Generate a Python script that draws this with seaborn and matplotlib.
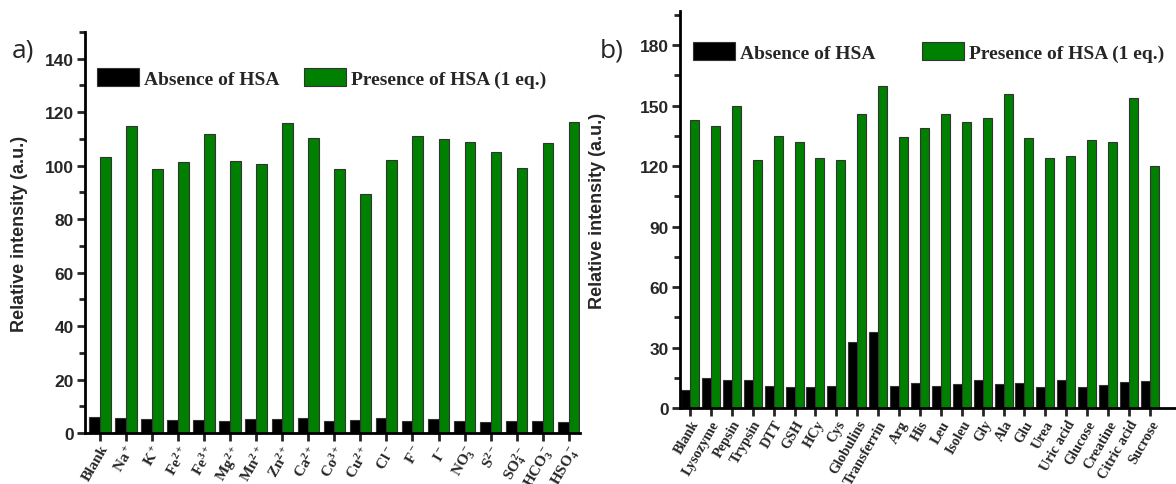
import numpy as np
import pandas as pd
import matplotlib
matplotlib.use("Agg")
import matplotlib.pyplot as plt
import seaborn as sns
from matplotlib.ticker import MultipleLocator
from matplotlib.patches import Patch

# ---------------- data ----------------
ions = ["Blank", "Na$^+$", "K$^+$", "Fe$^{2+}$", "Fe$^{3+}$", "Mg$^{2+}$", "Mn$^{2+}$",
        "Zn$^{2+}$", "Ca$^{2+}$", "Co$^{3+}$", "Cu$^{2+}$", "Cl$^-$", "F$^-$", "I$^-$",
        "NO$_3^-$", "S$^{2-}$", "SO$_4^{2-}$", "HCO$_3^-$", "HSO$_4^-$"]
ions_absence = [5.9, 5.6, 5.1, 5.0, 5.0, 4.5, 5.1, 5.1, 5.6, 4.5, 5.0, 5.6, 4.6, 5.1,
                4.6, 4.3, 4.5, 4.6, 4.3]
ions_presence = [103.4, 115.0, 98.9, 101.5, 111.8, 101.9, 100.8, 116.0, 110.5, 98.9,
                 89.3, 102.3, 111.0, 110.0, 108.9, 105.1, 99.3, 108.4, 116.3]

bio = ["Blank", "Lysozyme", "Pepsin", "Trypsin", "DTT", "GSH", "HCy", "Cys", "Globulins",
       "Transferrin", "Arg", "His", "Leu", "Isoleu", "Gly", "Ala", "Glu", "Urea",
       "Uric acid", "Glucose", "Creatine", "Citric acid", "Sucrose"]
bio_absence = [9.1, 14.9, 13.9, 13.9, 11.1, 10.3, 10.3, 10.8, 32.8, 37.8, 11.1, 12.4,
               11.1, 11.8, 13.9, 11.9, 12.4, 10.3, 13.9, 10.4, 11.3, 13.1, 13.4]
bio_presence = [143, 140, 150, 123, 135, 132, 124, 123, 146, 160, 134.4, 139, 146, 142,
                144, 156, 134.1, 124, 125, 133, 132, 154, 120]

series_names = ["Absence of HSA", "Presence of HSA (1 eq.)"]
colors = {"Absence of HSA": "#000000", "Presence of HSA (1 eq.)": "#008000"}

sns.set_theme(style="white")
plt.rcParams["font.family"] = ["Liberation Sans", "DejaVu Sans"]
plt.rcParams["mathtext.fontset"] = "custom"
plt.rcParams["mathtext.rm"] = "Liberation Serif:bold"
plt.rcParams["mathtext.it"] = "Liberation Serif:bold"
plt.rcParams["mathtext.bf"] = "Liberation Serif:bold"
plt.rcParams["mathtext.default"] = "rm"

W, H = 1176, 485
fig = plt.figure(figsize=(W / 100, H / 100), dpi=100)
axa = fig.add_axes([85/W, 1-434/H, (580-85)/W, (434-33)/H])
axb = fig.add_axes([680/W, 1-409/H, (W-680)/W, (409-12)/H])


def long_df(cats, a, p):
    return pd.DataFrame({
        "cat": cats * 2,
        "val": list(a) + list(p),
        "cond": [series_names[0]] * len(cats) + [series_names[1]] * len(cats),
    })


def draw(ax, cats, a, p, width, ylim, major, minor, xlim, xfs):
    df = long_df(cats, a, p)
    sns.barplot(data=df, x="cat", y="val", hue="cond", order=cats,
                hue_order=series_names, palette=colors, width=width,
                edgecolor="#333333", linewidth=0.8, legend=False, ax=ax,
                errorbar=None, saturation=1)
    ax.set_ylim(*ylim)
    ax.set_xlim(*xlim)
    ax.yaxis.set_major_locator(MultipleLocator(major))
    ax.yaxis.set_minor_locator(MultipleLocator(minor))
    for s in ["top", "right"]:
        ax.spines[s].set_visible(False)
    for s in ["left", "bottom"]:
        ax.spines[s].set_linewidth(2.0)
        ax.spines[s].set_color("black")
    ax.tick_params(axis="y", which="major", direction="out", length=6, width=2,
                   labelsize=12.5, left=True, pad=2)
    ax.tick_params(axis="y", which="minor", direction="out", length=4, width=2, left=True)
    ax.tick_params(axis="x", which="major", direction="out", length=6, width=2,
                   bottom=True, pad=1)
    for lbl in ax.get_yticklabels():
        lbl.set_fontweight("bold")
    ax.set_xticks(range(len(cats)))
    ax.set_xticklabels(cats, rotation=60, ha="right", rotation_mode="anchor",
                       fontsize=xfs, fontweight="bold", family="Liberation Serif")
    ax.set_xlabel("")
    ax.set_ylabel("Relative intensity (a.u.)", fontsize=13, fontweight="bold")
    ax.grid(False)


draw(axa, ions, ions_absence, ions_presence, 0.82, (0, 150), 20, 10, (-0.57, 18.43), 11)
draw(axb, bio, bio_absence, bio_presence, 0.86, (0, 197), 30, 15, (-0.48, 23.25), 10.3)
axa.yaxis.set_label_coords(-0.115, 0.5)
axb.yaxis.set_label_coords(-0.15, 0.5)

handles = [Patch(facecolor=colors[n], edgecolor="#333333", linewidth=0.8, label=n)
           for n in series_names]
legprops = dict(family="Liberation Serif", weight="bold", size=14)
for ax, anchor, colsp in [(axa, (97/W, 1-79/H), 1.25), (axb, (693/W, 1-53/H), 2.4)]:
    ax.legend(handles=handles, ncol=2, frameon=False, loc="center left",
              bbox_to_anchor=anchor, bbox_transform=fig.transFigure, prop=legprops,
              handlelength=2.16, handleheight=1.08, handletextpad=0.26,
              columnspacing=colsp, borderaxespad=0, borderpad=0)

fig.text(12/W, 1-58/H, "a)", fontsize=19, family="Open Sans")
fig.text(600/W, 1-58/H, "b)", fontsize=19, family="Open Sans")

fig.savefig("out.png", dpi=100)
